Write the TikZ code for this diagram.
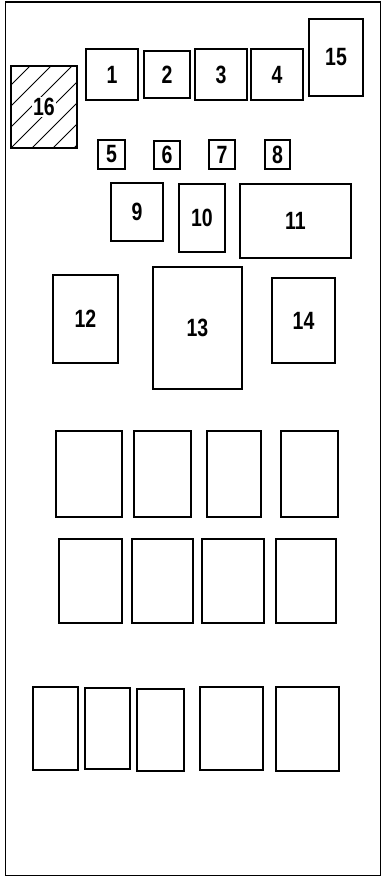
\documentclass[tikz,border=0pt]{standalone}
\usepackage{fontspec}
\newfontfamily\fusefont[FakeStretch=0.78]{Liberation Sans}
\usetikzlibrary{positioning}

\begin{document}
\begin{tikzpicture}[x=1pt,y=-1pt,frame/.style={line width=1.2pt},fuse/.style={draw, line width=1.1pt, inner sep=0pt, font=\fusefont\bfseries\fontsize{25}{25}\selectfont},hatch/.style={line width=0.8pt},tag/.style={fill=white, inner sep=1.5pt, font=\fusefont\bfseries\fontsize{25}{25}\selectfont}]
\useasboundingbox (0,0) rectangle (382,880);
\draw[frame] (5.5,2) rectangle (380.5,875.5);
% hatched block
\node[fuse, minimum width=66, minimum height=82] (f16) at (44,107) {};
\begin{scope}
\clip (f16.south west) rectangle (f16.north east);
\foreach \k in {-84,-63,...,63} \draw[hatch] (11+\k,148) -- (11+\k+90,58);
\end{scope}
\node[tag] (l16) at (f16) {16};
% top row
\node[fuse, minimum width=52, minimum height=51] (f1) at (112,74.5) {1};
\node[fuse, minimum width=46, minimum height=47] (f2) at (167,74.5) {2};
\node[fuse, minimum width=52, minimum height=51] (f3) at (221,74.5) {3};
\node[fuse, minimum width=52, minimum height=51] (f4) at (277,74.5) {4};
\node[fuse, minimum width=54, minimum height=77] (f15) at (336,57.5) {15};
% small fuses
\node[fuse, minimum width=27, minimum height=29] (f5) at (111.5,154.5) {5};
\node[fuse, minimum width=26, minimum height=28] (f6) at (167,155) {6};
\node[fuse, minimum width=26, minimum height=29] (f7) at (222,154.5) {7};
\node[fuse, minimum width=25, minimum height=29] (f8) at (277.5,154.5) {8};
% relays
\node[fuse, minimum width=52, minimum height=58] (f9) at (137,212) {9};
\node[fuse, minimum width=46, minimum height=68] (f10) at (202,218) {10};
\node[fuse, minimum width=111, minimum height=74] (f11) at (295.5,221) {11};
\node[fuse, minimum width=65, minimum height=88] (f12) at (85.5,319) {12};
\node[fuse, minimum width=89, minimum height=122] (f13) at (197.5,328) {13};
\node[fuse, minimum width=63, minimum height=85] (f14) at (303.5,320.5) {14};
% empty slots
\node[fuse, minimum width=66, minimum height=86] (a1) at (89,474) {};
\node[fuse, minimum width=57, minimum height=86] (a2) at (162.5,474) {};
\node[fuse, minimum width=54, minimum height=86] (a3) at (234,474) {};
\node[fuse, minimum width=57, minimum height=86] (a4) at (309.5,474) {};
\node[fuse, minimum width=63, minimum height=84] (b1) at (90.5,581) {};
\node[fuse, minimum width=61, minimum height=84] (b2) at (162.5,581) {};
\node[fuse, minimum width=62, minimum height=84] (b3) at (233,581) {};
\node[fuse, minimum width=60, minimum height=84] (b4) at (306,581) {};
\node[fuse, minimum width=45, minimum height=83] (c1) at (55.5,728.5) {};
\node[fuse, minimum width=45, minimum height=81] (c2) at (107.5,728.5) {};
\node[fuse, minimum width=47, minimum height=82] (c3) at (160.5,730) {};
\node[fuse, minimum width=63, minimum height=83] (c4) at (231.5,728.5) {};
\node[fuse, minimum width=63, minimum height=84] (c5) at (307.5,729) {};
\end{tikzpicture}
\end{document}
